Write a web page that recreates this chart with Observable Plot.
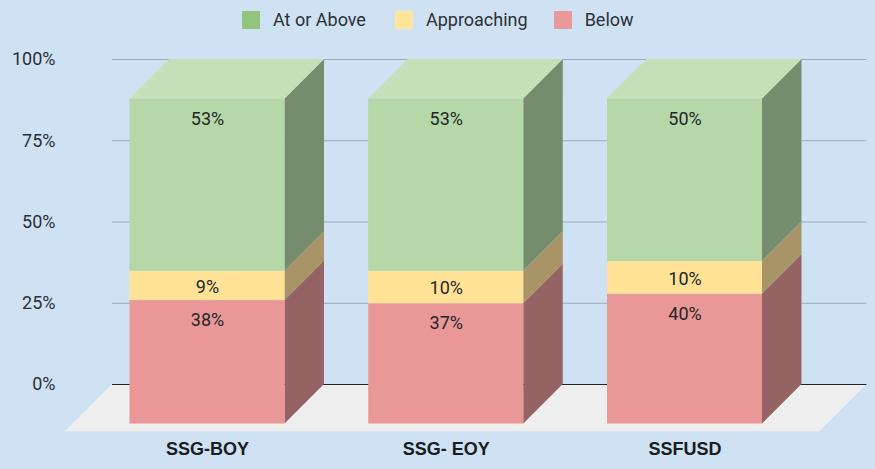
<!DOCTYPE html>
<html>
<head>
<meta charset="utf-8">
<script src="https://cdn.jsdelivr.net/npm/d3@7"></script>
<script src="https://cdn.jsdelivr.net/npm/@observablehq/plot@0.6"></script>
<style>
html,body{margin:0;padding:0;background:#cfe2f3;width:875px;height:469px;overflow:hidden}
#legend{height:39px;display:flex;align-items:center;padding-left:242px;box-sizing:border-box;font:18px Roboto,sans-serif;color:#2b2f36}
#legend .item{display:flex;align-items:center}
#legend .sw{width:18px;height:18px;border-radius:1px;margin-right:13px}
svg{display:block}
</style>
</head>
<body>
<div id="legend"></div>
<div id="chart"></div>
<script>
const categories = ["SSG-BOY", "SSG- EOY", "SSFUSD"];
const seriesNames = ["Below", "Approaching", "At or Above"];
const below = [38, 37, 40];
const approaching = [9, 10, 10];
const above = [53, 53, 50];
const yTicks = [0, 25, 50, 75, 100];
const legendOrder = ["At or Above", "Approaching", "Below"];
const legendColors = {"At or Above": "#93c47d", "Approaching": "#ffe599", "Below": "#ea9999"};
const frontColors = {"Below": "#ea9797", "Approaching": "#ffe296", "At or Above": "#b6d7a8"};
const sideColors = {"Below": "#956363", "Approaching": "#a89466", "At or Above": "#758c6d"};
const topColor = "#c5dfb9";

// Depth of the pseudo-3D box, in scale units
const halfBar = 0.3246, depthX = 0.1654, depthY = 12.17;
const floorDepthX = 0.197, floorDepthY = 14.5;
const gridX1 = -0.398, gridX2 = 2.762;

const values = {"Below": below, "Approaching": approaching, "At or Above": above};
const segs = [];
categories.forEach((c, i) => {
  let base = 0;
  seriesNames.forEach(s => {
    const v = values[s][i];
    segs.push({i, s, v, lo: base, hi: base + v, id: c + s});
    base += v;
  });
});

const sides = segs.flatMap(d => [
  {id: d.id, s: d.s, x: d.i + halfBar, y1: d.lo - depthY, y2: d.hi - depthY},
  {id: d.id, s: d.s, x: d.i + halfBar + depthX, y1: d.lo, y2: d.hi}
]);
const tops = categories.flatMap((c, i) => [
  {id: c, y: 100 - depthY, x1: i - halfBar, x2: i + halfBar},
  {id: c, y: 100, x1: i - halfBar + depthX, x2: i + halfBar + depthX}
]);
const floor = [
  {y: 0, x1: gridX1, x2: gridX2},
  {y: -floorDepthY, x1: gridX1 - floorDepthX, x2: gridX2 - floorDepthX}
];

const labelY = d => d.s === "Approaching" ? (d.lo + d.hi) / 2 - depthY - 0.3 : d.hi - depthY - 6.1;

const legend = d3.select("#legend");
legendOrder.forEach((s, k) => {
  const it = legend.append("div").attr("class", "item").style("margin-right", k === 0 ? "29px" : "26px");
  it.append("div").attr("class", "sw").style("background", legendColors[s]);
  it.append("span").text(s);
});

const leftPx = 55, unit = 238.75, c0 = 207;
const plot = Plot.plot({
  width: 875, height: 430,
  marginLeft: leftPx, marginRight: 0, marginTop: 20, marginBottom: 85,
  style: {background: "transparent", fontFamily: "Roboto, sans-serif"},
  x: {domain: [(leftPx - c0) / unit, (875 - c0) / unit], axis: null},
  y: {domain: [0, 100], axis: null},
  marks: [
    Plot.areaX(floor, {x1: "x1", x2: "x2", y: "y", fill: "#eeeeee"}),
    Plot.ruleY(yTicks.filter(t => t > 0), {y: d => d, x1: gridX1, x2: gridX2, stroke: "#9aa9bd", strokeWidth: 1.2}),
    Plot.ruleY([0], {x1: gridX1, x2: gridX2, stroke: "#1f2328", strokeWidth: 1.2}),
    Plot.axisY({ticks: yTicks, tickFormat: d => d + "%", tickSize: 0, tickPadding: 0, fontSize: 18, fill: "#2b2f36", marginLeft: leftPx}),
    Plot.axisX({ticks: [0, 1, 2], tickFormat: i => categories[i], tickSize: 0, tickPadding: 58, fontSize: 18, fontWeight: 700, fontFamily: "Liberation Sans, Arial, sans-serif", fill: "#1a1c20", label: null}),
    Plot.areaY(sides, {x: "x", y1: "y1", y2: "y2", z: "id", fill: d => sideColors[d.s]}),
    Plot.areaX(tops, {x1: "x1", x2: "x2", y: "y", z: "id", fill: topColor}),
    Plot.rect(segs, {x1: d => d.i - halfBar, x2: d => d.i + halfBar, y1: d => d.lo - depthY, y2: d => d.hi - depthY, fill: d => frontColors[d.s]}),
    Plot.text(segs, {x: "i", y: labelY, text: d => d.v + "%", fontSize: 18, fill: "#23262b"})
  ]
});
document.getElementById("chart").append(plot);
</script>
</body>
</html>
